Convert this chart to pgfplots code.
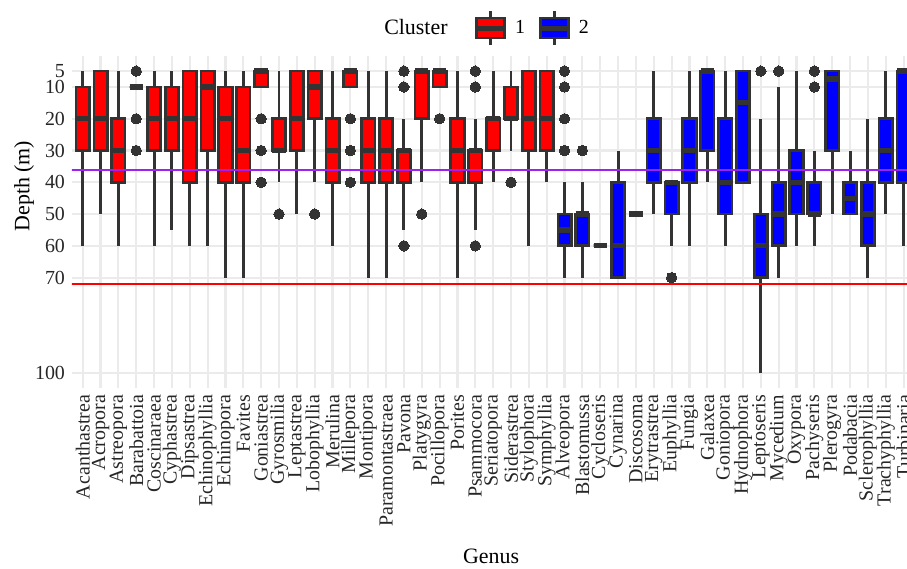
\documentclass[border=0pt]{standalone}
\usepackage{fontspec}
\setmainfont{Liberation Serif}
\usepackage{pgfplots}
\pgfplotsset{compat=1.18}
\usepgfplotslibrary{statistics}
\definecolor{dk}{HTML}{333333}
\definecolor{gridc}{HTML}{EBEBEB}
\definecolor{rpurple}{HTML}{A020F0}
\definecolor{cred}{HTML}{FF0000}
\definecolor{cblue}{HTML}{0000FF}
\pgfplotsset{
 bpbase/.style={forget plot, draw=dk, line width=1.35bp, mark=*, mark size=2.6bp,
   mark options={draw=dk, fill=dk, line width=0bp},
   boxplot/draw direction=y,
   boxplot/box extend=0.75, boxplot/whisker extend=0,
   boxplot/every whisker/.style={line width=1.45bp},
   boxplot/every median/.style={line width=2.6bp}},
 r1/.style={bpbase, boxplot/every box/.style={fill=cred}},
 b2/.style={bpbase, boxplot/every box/.style={fill=cblue}},
}
% #1 position, #2 lower whisker, #3 Q1, #4 median, #5 Q3, #6 upper whisker, #7 style
\newcommand\BX[7]{\addplot[#7, boxplot prepared={draw position=#1, lower whisker=#2, lower quartile=#3, median=#4, upper quartile=#5, upper whisker=#6}] coordinates {};}
% same with outliers #8
\newcommand\BXo[8]{\addplot[#7, boxplot prepared={draw position=#1, lower whisker=#2, lower quartile=#3, median=#4, upper quartile=#5, upper whisker=#6}] table[row sep=\\, y index=0] {d\\#8};}
\begin{document}
\begin{tikzpicture}
\begin{axis}[
 at={(0,0)}, anchor=south west,
 scale only axis, width=417.5bp, height=166bp,
 xmin=-0.6, xmax=46.19, ymin=0.25, ymax=104.75, y dir=reverse,
 xtick={0,...,46},
 xticklabels={Acanthastrea,Acropora,Astreopora,Barabattoia,Coscinaraea,Cyphastrea,Dipsastrea,Echinophyllia,Echinopora,Favites,Goniastrea,Gyrosmilia,Leptastrea,Lobophyllia,Merulina,Millepora,Montipora,Paramontastraea,Pavona,Platygyra,Pocillopora,Porites,Psammocora,Seriatopora,Siderastrea,Stylophora,Symphyllia,Alveopora,Blastomussa,Cycloseris,Cynarina,Discosoma,Erytrastrea,Euphyllia,Fungia,Galaxea,Goniopora,Hydnophora,Leptoseris,Mycedium,Oxypora,Pachyseris,Plerogyra,Podabacia,Sclerophyllia,Trachyphyllia,Turbinaria},
 ytick={5,10,20,30,40,50,60,70,100},
 grid=major, major grid style={draw=gridc, line width=1.1bp},
 axis line style={draw=none}, major tick length=0pt,
 tick label style={font=\fontsize{10}{12}\selectfont, text=black!85},
 xticklabel style={rotate=90, anchor=east},
 /pgf/number format/assume math mode=true,
 xlabel={Genus}, ylabel={Depth (m)},
 label style={font=\fontsize{11}{13}\selectfont},
 xlabel style={at={(axis description cs:0.502,-0.506)}, anchor=center},
 ylabel style={at={(axis description cs:-0.0575,0.608)}, anchor=center},
 legend columns=-1,
 legend style={draw=none, fill=none, at={(axis description cs:0.4964,1.084)}, anchor=center,
   font=\fontsize{10}{12}\selectfont, /tikz/every even column/.append style={column sep=4.5bp}},
 legend cell align=left,
]
\addlegendimage{empty legend}
\addlegendentry{\makebox[38.5bp][l]{\fontsize{11}{13}\selectfont Cluster}}
\addlegendimage{legend image code/.code={
  \draw[draw=dk, line width=1.35bp] (7bp,-8.5bp) -- (7bp,8.5bp);
  \filldraw[fill=cred, draw=dk, line width=1.35bp] (0bp,-5bp) rectangle (14bp,5bp);
  \draw[draw=dk, line width=2.4bp] (0bp,0bp) -- (14bp,0bp);}}
\addlegendentry{\hspace{2bp}1}
\addlegendimage{legend image code/.code={
  \draw[draw=dk, line width=1.35bp] (7bp,-8.5bp) -- (7bp,8.5bp);
  \filldraw[fill=cblue, draw=dk, line width=1.35bp] (0bp,-5bp) rectangle (14bp,5bp);
  \draw[draw=dk, line width=2.4bp] (0bp,0bp) -- (14bp,0bp);}}
\addlegendentry{\hspace{2bp}2}

\BX{0}{5}{10}{20}{30}{60}{r1}
\BX{1}{5}{5}{20}{30}{50}{r1}
\BX{2}{5}{20}{30}{40}{60}{r1}
\BXo{3}{10}{10}{10}{10}{10}{r1}{5\\20\\30\\}
\BX{4}{5}{10}{20}{30}{60}{r1}
\BX{5}{5}{10}{20}{30}{55}{r1}
\BX{6}{5}{5}{20}{40}{60}{r1}
\BX{7}{5}{5}{10}{30}{60}{r1}
\BX{8}{5}{10}{20}{40}{70}{r1}
\BX{9}{5}{10}{30}{40}{70}{r1}
\BXo{10}{5}{5}{5}{10}{10}{r1}{20\\30\\40\\}
\BXo{11}{5}{20}{30}{30}{40}{r1}{50\\}
\BX{12}{5}{5}{20}{30}{50}{r1}
\BXo{13}{5}{5}{10}{20}{40}{r1}{50\\}
\BX{14}{5}{20}{30}{40}{60}{r1}
\BXo{15}{5}{5}{5}{10}{10}{r1}{20\\30\\40\\}
\BX{16}{5}{20}{30}{40}{70}{r1}
\BX{17}{5}{20}{30}{40}{70}{r1}
\BXo{18}{20}{30}{30}{40}{55}{r1}{5\\10\\60\\}
\BXo{19}{5}{5}{5}{20}{40}{r1}{50\\}
\BXo{20}{5}{5}{5}{10}{10}{r1}{20\\}
\BX{21}{5}{20}{30}{40}{70}{r1}
\BXo{22}{20}{30}{30}{40}{55}{r1}{5\\10\\60\\}
\BX{23}{5}{20}{20}{30}{40}{r1}
\BXo{24}{5}{10}{20}{20}{30}{r1}{40\\}
\BX{25}{5}{5}{20}{30}{60}{r1}
\BX{26}{5}{5}{20}{30}{40}{r1}
\BXo{27}{40}{50}{55}{60}{70}{b2}{5\\10\\20\\30\\}
\BXo{28}{40}{50}{50}{60}{70}{b2}{30\\}
\BX{29}{60}{60}{60}{60}{60}{b2}
\BX{30}{30}{40}{60}{70}{70}{b2}
\BX{31}{50}{50}{50}{50}{50}{b2}
\BX{32}{5}{20}{30}{40}{50}{b2}
\BXo{33}{40}{40}{40}{50}{60}{b2}{70\\}
\BX{34}{5}{20}{30}{40}{60}{b2}
\BX{35}{5}{5}{5}{30}{40}{b2}
\BX{36}{5}{20}{40}{50}{60}{b2}
\BX{37}{5}{5}{15}{40}{40}{b2}
\BXo{38}{20}{50}{60}{70}{100}{b2}{5\\}
\BXo{39}{10}{40}{50}{60}{70}{b2}{5\\}
\BX{40}{5}{30}{40}{50}{60}{b2}
\BXo{41}{30}{40}{50}{50}{60}{b2}{5\\10\\}
\BX{42}{5}{5}{7.5}{30}{50}{b2}
\BX{43}{30}{40}{45}{50}{50}{b2}
\BX{44}{20}{40}{50}{60}{70}{b2}
\BX{45}{5}{20}{30}{40}{50}{b2}
\BX{46}{5}{5}{5}{40}{60}{b2}

\addplot[draw=rpurple, line width=1bp, forget plot] coordinates {(-1,36) (47,36)};
\addplot[draw=cred, line width=1bp, forget plot] coordinates {(-1,72) (47,72)};
\end{axis}
\pgfresetboundingbox
\path[use as bounding box] (-36bp,-90.5bp) rectangle (417.5bp,194bp);
\end{tikzpicture}
\end{document}
